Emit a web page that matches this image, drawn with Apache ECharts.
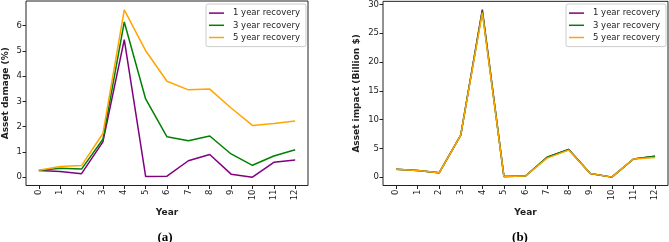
<!DOCTYPE html>
<html>
<head>
<meta charset="utf-8">
<script src="https://cdn.jsdelivr.net/npm/echarts@6/dist/echarts.min.js"></script>
<style>
  html, body { margin: 0; padding: 0; background: #fff; }
  #chart { width: 669px; height: 242px; }
</style>
</head>
<body>
<div id="chart"></div>
<script>
const years = [0, 1, 2, 3, 4, 5, 6, 7, 8, 9, 10, 11, 12];
const seriesNames = ['1 year recovery', '3 year recovery', '5 year recovery'];
const colors = ['#800080', '#008000', '#ffa500'];

// (a) asset damage, %
const damage1 = [0.26, 0.22, 0.14, 1.40, 5.45, 0.03, 0.04, 0.65, 0.90, 0.12, 0.00, 0.59, 0.68];
const damage3 = [0.26, 0.35, 0.32, 1.50, 6.15, 3.10, 1.60, 1.44, 1.63, 0.92, 0.47, 0.84, 1.09];
const damage5 = [0.27, 0.42, 0.46, 1.73, 6.63, 5.01, 3.80, 3.46, 3.49, 2.74, 2.05, 2.13, 2.23];

// (b) asset impact, billion $
const impact1 = [1.38, 1.15, 0.75, 7.3, 29.1, 0.12, 0.2, 3.45, 4.8, 0.65, 0.0, 3.15, 3.65];
const impact3 = [1.38, 1.15, 0.75, 7.3, 28.9, 0.12, 0.2, 3.45, 4.8, 0.65, 0.0, 3.15, 3.65];
const impact5 = [1.38, 1.15, 0.75, 7.3, 28.6, 0.12, 0.2, 3.30, 4.7, 0.65, 0.0, 3.15, 3.40];

const damageTicks = [0, 1, 2, 3, 4, 5, 6];
const impactTicks = [0, 5, 10, 15, 20, 25, 30];

const font = 'DejaVu Sans';
const ink = '#222';

const pairs = (ys) => years.map((x, i) => [x, ys[i]]);

const xAxisFor = (gridIndex) => ({
  type: 'value',
  gridIndex,
  min: -0.6,
  max: 12.6,
  name: 'Year',
  nameLocation: 'middle',
  nameGap: 17,
  nameTextStyle: { fontFamily: font, fontWeight: 'bold', fontSize: 9, color: ink },
  axisLine: { show: false, onZero: false },
  axisTick: { show: true, inside: false, length: 3.5, customValues: years, lineStyle: { color: ink } },
  axisLabel: { rotate: 90, margin: 4, fontFamily: font, fontSize: 8.5, color: ink, customValues: years },
  splitLine: { show: false },
});

const yAxisFor = (gridIndex, min, max, ticks, name, gap) => ({
  type: 'value',
  gridIndex,
  min,
  max,
  name,
  nameLocation: 'middle',
  nameGap: gap,
  nameTextStyle: { fontFamily: font, fontWeight: 'bold', fontSize: 9, color: ink },
  axisLine: { show: false, onZero: false },
  axisTick: { show: true, inside: false, length: 3.5, customValues: ticks, lineStyle: { color: ink } },
  axisLabel: { margin: 4, fontFamily: font, fontSize: 8.5, color: ink, customValues: ticks },
  splitLine: { show: false },
});

const lineSeries = (name, data, color, idx) => ({
  name,
  type: 'line',
  xAxisIndex: idx,
  yAxisIndex: idx,
  data: pairs(data),
  showSymbol: false,
  symbol: 'none',
  lineStyle: { width: 1.5, color },
  itemStyle: { color },
  silent: true,
  animation: false,
});

const legendFor = (left, top) => ({
  orient: 'vertical',
  left,
  top,
  icon: 'rect',
  itemWidth: 15,
  itemHeight: 1.5,
  itemGap: 0,
  padding: [3, 6, 3, 3],
  borderColor: '#ccc',
  borderWidth: 1,
  borderRadius: 2,
  backgroundColor: 'rgba(255,255,255,0.85)',
  textStyle: { fontFamily: font, fontSize: 8.5, color: ink, lineHeight: 12.2, padding: [0, 0, 0, 4] },
  data: seriesNames,
  selectedMode: false,
});

const chart = echarts.init(document.getElementById('chart'), null, { renderer: 'canvas' });
chart.setOption({
  animation: false,
  color: colors,
  title: [
    { text: '(a)', left: 160, top: 226, textAlign: 'center',
      textStyle: { fontFamily: 'Liberation Serif', fontWeight: 'bold', fontSize: 13, color: '#000' } },
    { text: '(b)', left: 515, top: 226, textAlign: 'center',
      textStyle: { fontFamily: 'Liberation Serif', fontWeight: 'bold', fontSize: 13, color: '#000' } },
  ],
  legend: [
    { ...legendFor(206, 4) },
    { ...legendFor(566, 4) },
  ],
  grid: [
    { left: 23, top: 1, width: 285, height: 184.5, show: true, borderColor: ink, borderWidth: 1, containLabel: false },
    { left: 383, top: 1, width: 285, height: 184.5, show: true, borderColor: ink, borderWidth: 1, containLabel: false },
  ],
  xAxis: [xAxisFor(0), xAxisFor(1)],
  yAxis: [
    yAxisFor(0, -0.33, 6.98, damageTicks, 'Asset damage (%)', 16),
    yAxisFor(1, -1.455, 30.55, impactTicks, 'Asset impact (Billion $)', 22),
  ],
  series: [
    lineSeries(seriesNames[0], damage1, colors[0], 0),
    lineSeries(seriesNames[1], damage3, colors[1], 0),
    lineSeries(seriesNames[2], damage5, colors[2], 0),
    lineSeries(seriesNames[0], impact1, colors[0], 1),
    lineSeries(seriesNames[1], impact3, colors[1], 1),
    lineSeries(seriesNames[2], impact5, colors[2], 1),
  ],
});

window.addEventListener('resize', () => chart.resize());
</script>
</body>
</html>
